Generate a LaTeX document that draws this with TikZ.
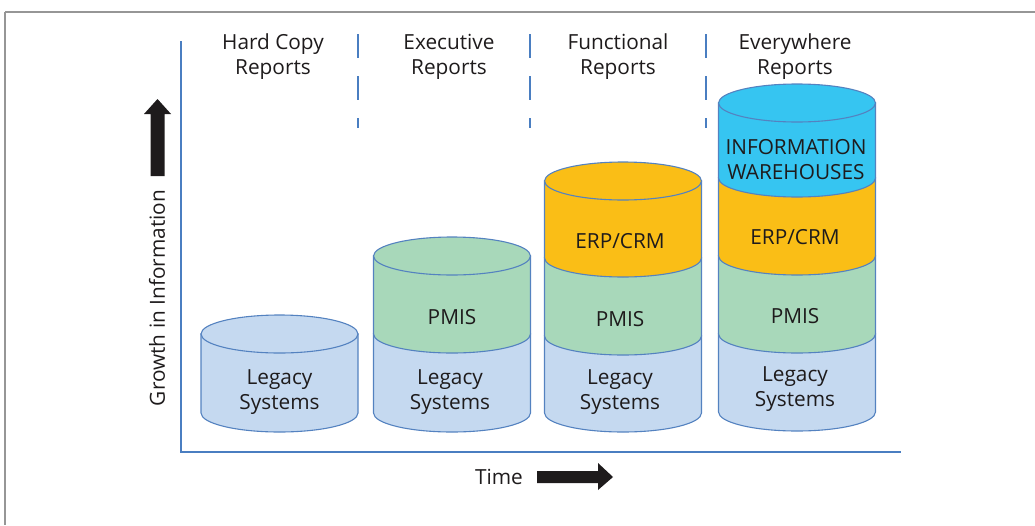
\documentclass[tikz,border=0pt]{standalone}
\usepackage{fontspec}
\setmainfont{Open Sans}
\definecolor{axisblue}{RGB}{74,126,193}
\definecolor{rimblue}{RGB}{84,130,192}
\definecolor{legacyfill}{RGB}{197,217,240}
\definecolor{pmisfill}{RGB}{168,216,186}
\definecolor{erpfill}{RGB}{250,190,22}
\definecolor{infofill}{RGB}{54,197,241}
\definecolor{ink}{RGB}{30,27,28}
\definecolor{framegrey}{RGB}{150,150,150}

% one band of a drum: side walls plus the front arc of its lower rim
\newcommand{\drumlayer}[4]{%
  \filldraw[drum, fill=#4] ({#1-78.5},#2) -- ({#1-78.5},#3)
    arc[start angle=180, end angle=0, x radius=78.5, y radius=19]
    -- ({#1+78.5},#2) -- cycle;}
% the lid of a drum
\newcommand{\drumlid}[3]{%
  \filldraw[drum, fill=#3] (#1,#2) ellipse[x radius=78.5, y radius=19];}

\begin{document}
\begin{tikzpicture}[x=1pt, y=-1pt,
  drum/.style={draw=rimblue, line width=1.1pt},
  label/.style={text=ink, font=\fontsize{20.8}{25}\selectfont, align=center, inner sep=0pt},
  axisline/.style={draw=axisblue, line width=2.8pt},
  sepline/.style={draw=axisblue, line width=2.4pt, dash pattern=on 23.5pt off 18.5pt},
  blockarrow/.style={fill=ink, draw=none},
  frameline/.style={draw=framegrey, line width=1.4pt}]
\useasboundingbox (0,0) rectangle (1035,525);

% page frame
\draw[frameline] (5,12) -- (1035,12);
\draw[frameline] (5,12) -- (5,525);

% axes
\coordinate (ytop) at (181,42);
\coordinate (origin) at (181,452);
\coordinate (xend) at (900,452);
\draw[axisline, line cap=rect] (ytop) -- (origin) -- (xend);

% column separators
\foreach \sx/\nm in {358/sa, 530/sb, 706/sc}{
  \coordinate (\nm top) at (\sx,34);
  \coordinate (\nm bot) at (\sx,128);
  \draw[sepline] (\nm top) -- (\nm bot);
}

% column headings
\node[label] (h1) at (273,57) {Hard Copy\\Reports};
\node[label] (h2) at (449,57) {Executive\\Reports};
\node[label] (h3) at (618,57) {Functional\\Reports};
\node[label] (h4) at (795,57) {Everywhere\\Reports};

% drum 1
\drumlayer{279.5}{334}{413}{legacyfill}
\drumlid{279.5}{334}{legacyfill}
\node[label] (d1leg) at (279.5,392.5) {Legacy\\Systems};

% drum 2
\drumlayer{452}{334}{413}{legacyfill}
\drumlayer{452}{256}{334}{pmisfill}
\drumlid{452}{256}{pmisfill}
\node[label] (d2pmis) at (452,317) {PMIS};
\node[label] (d2leg) at (450,392.5) {Legacy\\Systems};

% drum 3
\drumlayer{623}{336}{413}{legacyfill}
\drumlayer{623}{258}{336}{pmisfill}
\drumlayer{623}{181}{258}{erpfill}
\drumlid{623}{181}{erpfill}
\node[label] (d3erp) at (620,241) {ERP/CRM};
\node[label] (d3pmis) at (620,319) {PMIS};
\node[label] (d3leg) at (620,392.5) {Legacy\\Systems};

% drum 4
\drumlayer{797}{334}{412}{legacyfill}
\drumlayer{797}{256}{334}{pmisfill}
\drumlayer{797}{178}{256}{erpfill}
\drumlayer{797}{103}{178}{infofill}
\drumlid{797}{103}{infofill}
\node[label] (d4info) at (796,160) {INFORMATION\\WAREHOUSES};
\node[label] (d4erp) at (795,237) {ERP/CRM};
\node[label] (d4pmis) at (795,316) {PMIS};
\node[label] (d4leg) at (795,389) {Legacy\\Systems};

% axis captions and block arrows
\node[label, rotate=90] (ycap) at (157,298) {Growth in Information};
\fill[blockarrow] (157.5,99) -- (171,114) -- (164.5,114) -- (164.5,176)
  -- (150.5,176) -- (150.5,114) -- (144,114) -- cycle;
\node[label] (xcap) at (499,477) {Time};
\fill[blockarrow] (537,471) -- (598,471) -- (598,463) -- (613,477)
  -- (598,490) -- (598,483) -- (537,483) -- cycle;
\end{tikzpicture}
\end{document}
